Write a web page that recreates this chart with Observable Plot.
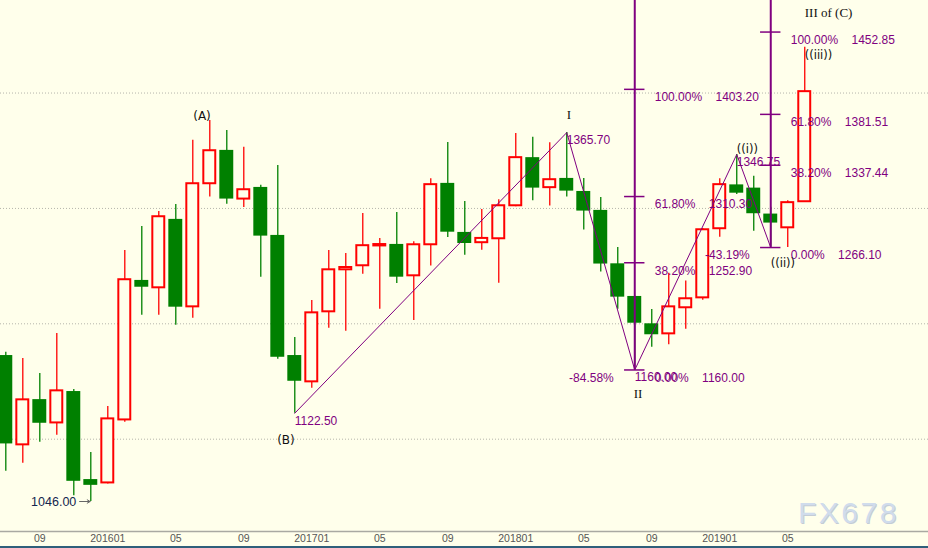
<!DOCTYPE html>
<html><head><meta charset="utf-8">
<script src="https://cdn.jsdelivr.net/npm/d3@7"></script>
<script src="https://cdn.jsdelivr.net/npm/@observablehq/plot@0.6"></script>
<style>
html,body{margin:0;padding:0;background:#ffffeb;}
#wrap{position:relative;width:928px;height:548px;overflow:hidden;background:#ffffeb;}
#wm{position:absolute;left:798px;top:498px;font:30px/30px "Liberation Sans",Arial,sans-serif;letter-spacing:2.5px;color:#d0dcec;text-shadow:1px 1px 0 #c4ccd6;}
#bar{position:absolute;left:0;top:546px;width:928px;height:2px;background:#2f5f7a;}
</style></head><body>
<div id="wrap"><div id="chart"></div><div id="wm">FX678</div><div id="bar"></div></div>
<script>
// ---- data (monthly XAU candles) ----
const months = ["201507","201508","201509","201510","201511","201512",
  "201601","201602","201603","201604","201605","201606","201607","201608","201609","201610","201611","201612",
  "201701","201702","201703","201704","201705","201706","201707","201708","201709","201710","201711","201712",
  "201801","201802","201803","201804","201805","201806","201807","201808","201809","201810","201811","201812",
  "201901","201902","201903","201904","201905","201906"];
const open = [1172.5,1095.1,1134.3,1114.1,1141.3,1065.0,1062.1,1116.7,1237.6,1231.2,1290.5,1214.7,1321.4,1350.3,1308.1,1318.2,1276.6,1172.5,1149.7,1210.4,1246.8,1250.3,1267.5,1268.8,1241.6,1268.5,1321.7,1279.2,1270.3,1273.7,1302.3,1344.0,1318.0,1326.0,1314.7,1298.3,1252.0,1223.7,1200.0,1191.3,1213.9,1222.5,1282.4,1320.4,1317.6,1295.1,1283.2,1305.8];
const high = [1175.4,1169.9,1156.9,1191.6,1143.0,1088.4,1128.3,1263.6,1284.4,1297.4,1303.5,1359.0,1376.2,1367.6,1353.0,1320.0,1337.2,1188.1,1220.2,1263.6,1261.0,1295.7,1274.0,1296.5,1271.1,1325.8,1357.2,1306.1,1299.1,1307.5,1365.0,1361.6,1357.0,1365.7,1326.0,1309.5,1266.2,1224.0,1212.4,1243.9,1237.0,1282.5,1325.8,1346.75,1327.8,1301.0,1306.7,1439.7];
const low = [1072.2,1079.1,1097.3,1103.4,1051.0,1046.0,1061.2,1114.7,1207.5,1207.5,1198.8,1204.9,1309.8,1303.7,1300.9,1240.4,1169.3,1122.5,1144.1,1196.2,1193.6,1243.0,1212.7,1235.0,1202.9,1250.0,1274.8,1259.5,1263.8,1235.2,1301.5,1306.7,1302.0,1309.8,1281.2,1244.8,1212.7,1160.0,1179.6,1181.8,1195.3,1220.5,1275.1,1312.0,1280.2,1266.5,1266.1,1305.8];
const close = [1095.9,1134.1,1113.8,1141.9,1063.5,1060.0,1117.6,1238.2,1231.7,1292.8,1214.4,1321.4,1350.0,1308.1,1316.2,1276.0,1171.0,1150.2,1209.5,1246.8,1248.8,1267.7,1268.7,1240.4,1268.5,1320.6,1279.4,1269.6,1274.0,1302.3,1344.0,1317.6,1324.9,1315.0,1297.7,1251.8,1223.1,1200.5,1190.5,1214.7,1221.7,1281.5,1320.6,1313.2,1295.4,1287.3,1305.0,1401.2];

const gridLevels = [1100, 1200, 1300, 1400];

// wave pivots: (B), I, II, ((i)), ((ii))
const waveMonths = ["201612","201804","201808","201902","201904"];
const wavePrice = [1122.5, 1365.7, 1160.0, 1346.75, 1266.1];
const waveValueLabels = ["1122.50","1365.70","1160.00","1346.75"];
const retraceLabels = ["-84.58%","-43.19%"]; // at II and ((ii))

// fibonacci tools
const fibRatios = [0, 0.382, 0.618, 1];
const fibPctLabels = ["0.00%","38.20%","61.80%","100.00%"];
const fibAnchorMonths = ["201808","201904"];
const fibBase = [1160.0, 1266.1];
const fibRange = [243.2, 186.75];

const lowLabel = "1046.00";
const lowMonth = "201512";
const peakAMonth = "201607";
const lastMonth = "201906";

// ---- build ----
const idx = m => months.indexOf(m);
const candles = months.map((m,i)=>({i, o:open[i], h:high[i], l:low[i], c:close[i], up: close[i] >= open[i]}));
const waves = waveMonths.map((m,k)=>({x: idx(m), y: wavePrice[k]}));
const fibTicks = [];
fibAnchorMonths.forEach((m,f)=>fibRatios.forEach((r,k)=>{
  const price = fibBase[f] + r*fibRange[f];
  fibTicks.push({x: idx(m), y: price, pct: fibPctLabels[k], val: price.toFixed(2)});
}));
const fibLines = fibAnchorMonths.map((m,f)=>({x: idx(m), y: fibBase[f]}));
const tickIdx = months.map((m,i)=>i).filter(i=>["01","05","09"].includes(months[i].slice(4)));

const Y0 = 1020, Y1 = 1480.2;
const bg = "#ffffeb", red = "#ff0000", green = "#008000", purple = "#800080";
const sans = "'Liberation Sans', Arial, sans-serif";
const dv = "'DejaVu Sans', Verdana, sans-serif";
const serif = "'Liberation Serif', 'Times New Roman', serif";
const NB = "\u00a0\u00a0\u00a0\u00a0";
const hw = 0.41;

const chart = Plot.plot({
  width: 928, height: 546,
  marginTop: 0, marginRight: 0, marginBottom: 15, marginLeft: 0,
  style: {background: bg, fontFamily: sans, fontSize: "10.5px", overflow: "visible"},
  x: {domain: [-0.312, 54.28], axis: null},
  y: {domain: [Y0, Y1], axis: null},
  marks: [
    Plot.ruleY(gridLevels, {stroke: "#b5b5ab", strokeDasharray: "1,2"}),
    Plot.ruleY([Y0], {stroke: "#a9a9a2", strokeWidth: 1.5}),
    Plot.axisX(tickIdx, {tickFormat: i => months[i].slice(4) === "01" ? months[i] : months[i].slice(4),
      tickSize: 0, tickPadding: 3, color: "#555", label: null}),
    // wicks
    Plot.ruleX(candles.filter(d=>!d.up), {x: "i", y1: "l", y2: "h", stroke: green, strokeWidth: 1.3}),
    Plot.ruleX(candles.filter(d=>d.up), {x: "i", y1: "l", y2: "h", stroke: red, strokeWidth: 1.3}),
    // bodies
    Plot.rect(candles.filter(d=>!d.up), {x1: d=>d.i-hw, x2: d=>d.i+hw, y1: "o", y2: "c", fill: green}),
    Plot.rect(candles.filter(d=>d.up), {x1: d=>d.i-hw, x2: d=>d.i+hw, y1: "o", y2: "c", fill: bg, stroke: red, strokeWidth: 2, insetLeft: 1, insetRight: 1}),
    // wave zigzag
    Plot.line(waves, {x: "x", y: "y", stroke: purple, strokeWidth: 1}),
    // fib verticals and ticks
    Plot.ruleX(fibLines, {x: "x", y1: "y", y2: Y1, stroke: purple, strokeWidth: 2}),
    Plot.ruleY(fibTicks, {y: "y", x1: d=>d.x-0.6, x2: d=>d.x+0.6, stroke: purple, strokeWidth: 1.5}),
    // pivot value labels
    Plot.text(waves.slice(0,4), {x: "x", y: "y", text: (d,k)=>waveValueLabels[k], textAnchor: "start", dy: 7.5, fill: purple, fontSize: 12, fontFamily: sans}),
    Plot.text(fibTicks, {x: "x", y: "y", text: d=>d.pct + NB + d.val, textAnchor: "start", dx: 20, dy: 8, fill: purple, fontSize: 12, fontFamily: sans}),
    Plot.text([waves[2], waves[4]], {x: "x", y: "y", text: (d,k)=>retraceLabels[k], textAnchor: "end", dx: -21, dy: 8, fill: purple, fontSize: 12, fontFamily: sans}),
    // wave names
    Plot.text([candles[idx(peakAMonth)]], {x: "i", y: "h", text: ["(A)"], textAnchor: "end", dx: 1, dy: -4, fill: "#111", fontSize: 12, fontFamily: dv}),
    Plot.text([waves[0]], {x: "x", y: "y", text: ["(B)"], textAnchor: "end", dx: 0, dy: 27, fill: "#111", fontSize: 12, fontFamily: dv}),
    Plot.text([waves[1]], {x: "x", y: "y", text: ["I"], textAnchor: "start", dx: 0, dy: -18, fill: "#111", fontSize: 13, fontFamily: serif}),
    Plot.text([waves[2]], {x: "x", y: "y", text: ["II"], textAnchor: "start", dx: -1, dy: 24, fill: "#111", fontSize: 13, fontFamily: serif}),
    Plot.text([waves[3]], {x: "x", y: "y", text: ["((i))"], textAnchor: "start", dx: 0, dy: -5, fill: "#111", fontSize: 11.5, fontFamily: dv}),
    Plot.text([waves[4]], {x: "x", y: "y", text: ["((ii))"], textAnchor: "start", dx: 0, dy: 16, fill: "#111", fontSize: 11.5, fontFamily: dv}),
    Plot.text([candles[idx(lastMonth)]], {x: "i", y: "h", text: ["((iii))"], textAnchor: "start", dx: 0, dy: 8, fill: "#111", fontSize: 11.5, fontFamily: dv}),
    Plot.text([candles[idx(lastMonth)]], {x: "i", y: "h", text: ["III of (C)"], textAnchor: "start", dx: 0, dy: -34, fill: "#111", fontSize: 13, fontFamily: serif}),
    // 1046 low marker
    Plot.text([candles[idx(lowMonth)]], {x: "i", y: "l", text: [lowLabel], textAnchor: "end", dx: -14.5, fill: "#13264f", fontSize: 12.5, fontFamily: sans}),
    Plot.arrow([candles[idx(lowMonth)]], {x1: d=>d.i-0.66, x2: d=>d.i-0.04, y1: "l", y2: "l", stroke: "#666", strokeWidth: 1, headLength: 5})
  ]
});
document.getElementById("chart").appendChild(chart);
</script>
</body></html>
